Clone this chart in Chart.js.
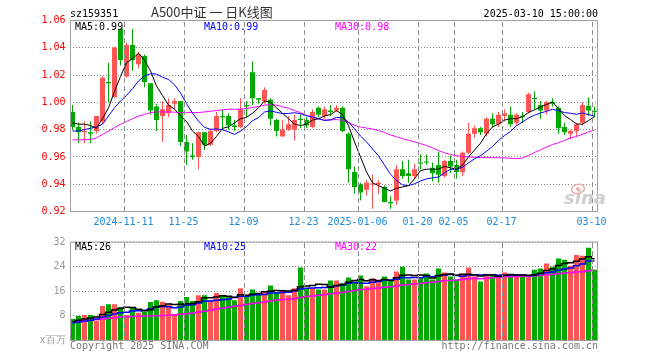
<!DOCTYPE html>
<html><head><meta charset="utf-8">
<script src="https://cdn.jsdelivr.net/npm/chart.js@4.4.1/dist/chart.umd.min.js"></script>
<style>
html,body{margin:0;padding:0;background:#fff;}
#wrap{position:relative;width:660px;height:360px;overflow:hidden;background:#fff;}
#c1{position:absolute;left:0;top:0;}
#c2{position:absolute;left:0;top:232px;}
</style></head><body>
<div id="wrap">
<canvas id="c1" width="660" height="232"></canvas>
<canvas id="c2" width="660" height="128"></canvas>
</div>
<script>
const dates = [
'2024-10-29','2024-10-30','2024-10-31','2024-11-01','2024-11-04','2024-11-05','2024-11-06','2024-11-07','2024-11-08',
'2024-11-11','2024-11-12','2024-11-13','2024-11-14','2024-11-15',
'2024-11-18','2024-11-19','2024-11-20','2024-11-21','2024-11-22',
'2024-11-25','2024-11-26','2024-11-27','2024-11-28','2024-11-29',
'2024-12-02','2024-12-03','2024-12-04','2024-12-05','2024-12-06',
'2024-12-09','2024-12-10','2024-12-11','2024-12-12','2024-12-13',
'2024-12-16','2024-12-17','2024-12-18','2024-12-19','2024-12-20',
'2024-12-23','2024-12-24','2024-12-25','2024-12-26','2024-12-27',
'2024-12-30','2024-12-31','2025-01-02','2025-01-03',
'2025-01-06','2025-01-07','2025-01-08','2025-01-09','2025-01-10',
'2025-01-13','2025-01-14','2025-01-15','2025-01-16','2025-01-17',
'2025-01-20','2025-01-21','2025-01-22','2025-01-23','2025-01-24',
'2025-01-27','2025-02-05','2025-02-06','2025-02-07',
'2025-02-10','2025-02-11','2025-02-12','2025-02-13','2025-02-14',
'2025-02-17','2025-02-18','2025-02-19','2025-02-20','2025-02-21',
'2025-02-24','2025-02-25','2025-02-26','2025-02-27','2025-02-28',
'2025-03-03','2025-03-04','2025-03-05','2025-03-06','2025-03-07',
'2025-03-10'];

const open = [
0.993,0.982,0.978,0.978,0.979,0.986,1.015,1.004,1.054,1.019,
1.042,1.028,1.034,1.014,0.997,0.990,0.992,0.999,1.001,0.971,
0.961,0.960,0.978,0.969,0.979,0.990,0.990,0.983,0.982,0.998,
1.022,1.003,1.001,1.002,0.987,0.975,0.980,0.980,0.988,0.987,
0.982,0.996,0.990,0.994,0.994,0.996,0.977,0.949,0.940,0.936,
0.9397,0.940,0.938,0.927,0.928,0.951,0.948,0.946,0.9552,0.9565,
0.952,0.954,0.946,0.957,0.954,0.949,0.963,0.977,0.981,0.977,
0.988,0.984,0.990,0.991,0.985,0.990,0.993,1.003,0.998,0.994,
1.0005,0.996,0.982,0.977,0.979,0.985,0.9975,0.9935];
const high = [
0.998,0.985,0.986,0.986,0.990,1.019,1.029,1.041,1.054,1.044,
1.054,1.037,1.035,1.014,0.999,1.001,1.003,1.003,1.001,0.976,
0.970,0.978,0.978,0.981,0.993,0.995,0.992,0.987,1.003,1.001,
1.030,1.003,1.011,1.003,0.988,0.987,0.990,0.991,0.991,0.989,
0.995,0.997,0.997,0.998,0.998,0.997,0.978,0.953,0.941,0.943,
0.947,0.943,0.939,0.931,0.954,0.957,0.958,0.955,0.962,0.962,
0.956,0.964,0.958,0.961,0.958,0.964,0.985,0.983,0.982,0.989,
0.992,0.993,0.995,0.997,0.992,0.993,1.007,1.008,1.001,1.001,
1.003,0.997,0.985,0.980,0.985,1.000,1.0035,0.997];
const low = [
0.980,0.970,0.970,0.970,0.977,0.984,1.000,1.003,1.027,1.018,
1.023,1.025,1.011,0.991,0.979,0.971,0.989,0.995,0.968,0.954,
0.958,0.951,0.965,0.968,0.978,0.980,0.980,0.979,0.981,0.989,
0.998,0.999,0.999,0.983,0.975,0.975,0.979,0.972,0.981,0.981,
0.981,0.989,0.988,0.990,0.993,0.978,0.941,0.933,0.928,0.932,
0.922,0.933,0.927,0.922,0.925,0.944,0.941,0.944,0.951,0.954,
0.942,0.941,0.945,0.948,0.944,0.946,0.962,0.974,0.976,0.975,
0.982,0.982,0.986,0.982,0.983,0.985,0.992,0.995,0.988,0.991,
0.997,0.977,0.976,0.973,0.975,0.983,0.990,0.989];
const close = [
0.982,0.978,0.979,0.977,0.990,1.018,1.014,1.040,1.031,1.042,
1.031,1.035,1.015,0.994,0.987,0.995,0.998,1.001,0.971,0.964,
0.960,0.978,0.969,0.979,0.990,0.989,0.983,0.982,0.995,0.997,
1.003,1.002,1.009,0.988,0.979,0.980,0.984,0.987,0.987,0.983,
0.993,0.991,0.995,0.993,0.996,0.979,0.951,0.938,0.934,0.941,
0.940,0.941,0.927,0.926,0.951,0.946,0.946,0.951,0.955,0.956,
0.948,0.947,0.957,0.953,0.949,0.963,0.977,0.981,0.978,0.988,
0.984,0.991,0.992,0.984,0.991,0.9895,1.006,1.0025,0.994,1.000,
0.999,0.981,0.978,0.979,0.984,0.998,0.994,0.993];

const ma5 = [
0.985,0.984,0.984,0.983,0.981,0.988,0.996,1.008,1.019,1.029,
1.032,1.036,1.031,1.023,1.012,1.005,0.998,0.995,0.990,0.986,
0.979,0.975,0.968,0.970,0.975,0.981,0.982,0.985,0.988,0.989,
0.992,0.996,1.001,1.000,0.996,0.992,0.988,0.984,0.983,0.984,
0.987,0.988,0.990,0.991,0.994,0.991,0.983,0.971,0.960,0.949,
0.941,0.939,0.937,0.935,0.937,0.938,0.939,0.944,0.950,0.951,
0.951,0.951,0.953,0.952,0.951,0.954,0.960,0.965,0.970,0.977,
0.982,0.984,0.987,0.988,0.988,0.9895,0.9925,0.9946,0.9966,0.9984,
1.0003,0.9953,0.9904,0.9874,0.9842,0.984,0.9866,0.9896];
const ma10 = [
0.979,0.979,0.980,0.981,0.982,0.984,0.990,0.996,1.001,1.005,
1.010,1.0157,1.0193,1.021,1.0207,1.0184,1.0168,1.0129,1.0069,0.9991,
0.992,0.9863,0.9817,0.9802,0.9805,0.9799,0.9784,0.9765,0.9789,0.9822,
0.9865,0.9889,0.9929,0.9938,0.9927,0.9918,0.9919,0.9924,0.9916,0.9902,
0.9892,0.9881,0.9867,0.9872,0.9889,0.9888,0.9855,0.9806,0.9753,0.9711,
0.9658,0.9608,0.954,0.9473,0.9428,0.9395,0.939,0.9403,0.9424,0.9439,
0.9447,0.9453,0.9483,0.951,0.9508,0.9525,0.9556,0.9586,0.9609,0.9641,
0.9677,0.9721,0.9756,0.9787,0.9829,0.9856,0.9885,0.9906,0.9922,0.9934,
0.9949,0.9939,0.9925,0.992,0.9913,0.9922,0.991,0.990];
const ma30 = [
0.9725,0.9725,0.9726,0.9728,0.974,0.9765,0.979,0.9815,0.984,0.986,
0.988,0.990,0.991,0.9925,0.993,0.993,0.993,0.9928,0.9925,0.9925,
0.9925,0.9925,0.993,0.9935,0.994,0.9945,0.995,0.995,0.995,0.9955,
0.9962,0.997,0.998,0.9983,0.998,0.9967,0.9957,0.9939,0.9925,0.9905,
0.9892,0.9878,0.9871,0.9871,0.9874,0.9868,0.9853,0.9832,0.9819,0.9812,
0.9805,0.9793,0.9779,0.9761,0.9748,0.9734,0.9721,0.9711,0.9698,0.9684,
0.9666,0.9647,0.963,0.9618,0.9608,0.9603,0.960,0.9598,0.9595,0.9597,
0.9594,0.9594,0.9593,0.959,0.9588,0.9592,0.961,0.9632,0.9652,0.9671,
0.9691,0.9704,0.9721,0.9739,0.975,0.9767,0.9783,0.9797];

const volume = [
7.0,8.0,8.3,8.3,6.4,11.2,11.8,11.8,10.9,8.3,
10.9,9.0,9.3,12.5,13.1,12.6,11.6,8.6,12.8,14.1,
12.8,14.7,14.7,13.1,15.4,14.7,14.1,13.1,17.0,14.4,
16.6,15.4,15.7,17.9,15.7,16.3,14.7,17.0,23.7,17.0,
17.0,16.6,16.6,19.5,19.5,18.6,20.5,19.2,21.1,17.6,
20.2,19.2,20.8,19.5,22.4,24.0,19.8,19.8,20.2,21.8,
19.8,23.4,22.1,20.8,19.8,21.4,23.7,20.8,19.2,21.4,
21.4,21.4,22.1,20.8,20.8,21.4,20.8,23.0,23.4,25.0,
24.0,26.6,26.2,24.3,27.8,27.5,30.1,23.0];
const vma5 = [
6.2,6.6,7.0,7.3,7.6,8.44,9.2,9.9,10.42,10.8,
10.74,10.18,9.68,10.0,10.96,11.3,11.82,11.68,11.74,11.94,
11.98,12.6,13.82,13.88,14.14,14.52,14.4,14.08,14.86,14.66,
15.04,15.3,15.82,16.0,16.26,16.2,16.06,16.32,17.48,17.74,
17.88,18.26,18.18,17.34,17.84,18.16,18.94,19.46,19.78,19.4,
19.72,19.46,19.78,19.46,20.42,21.18,21.3,21.1,21.24,21.12,
20.28,21.0,21.46,21.58,21.18,21.5,21.56,21.3,20.98,21.3,
21.3,20.84,21.1,21.42,21.3,21.3,21.18,21.36,21.88,22.72,
23.24,24.4,25.04,25.22,25.78,26.48,27.18,26.54];
const vma10 = [
5.8,6.0,6.3,6.6,7.0,7.6,8.1,8.6,9.0,9.2,
9.59,9.69,9.79,10.21,10.88,11.02,11.0,10.68,10.87,11.45,
11.64,12.21,12.75,12.81,13.04,13.25,13.5,13.95,14.37,14.4,
14.78,14.85,14.95,15.43,15.46,15.62,15.68,16.07,16.74,17.0,
17.04,17.16,17.25,17.41,17.79,18.02,18.6,18.82,18.56,18.62,
18.94,19.2,19.62,19.62,19.91,20.45,20.38,20.44,20.35,20.77,
20.73,21.15,21.28,21.41,21.15,20.89,21.28,21.38,21.28,21.24,
21.4,21.2,21.2,21.2,21.3,21.3,21.01,21.23,21.65,22.01,
22.27,22.79,23.2,23.55,24.25,24.86,25.79,25.79];
const vma30 = [
6.0,6.2,6.3,6.5,6.8,7.0,7.2,7.4,7.6,7.7,
7.8,7.9,7.95,8.0,8.05,8.1,8.2,8.3,8.5,8.7,
8.9,9.2,9.5,9.8,10.2,10.5,10.8,11.1,11.4,11.68,
12.0,12.25,12.5,12.82,13.13,13.3,13.39,13.57,13.99,14.28,
14.49,14.74,14.98,15.22,15.43,15.63,15.93,16.28,16.56,16.67,
16.92,17.07,17.27,17.49,17.72,18.03,18.22,18.44,18.55,18.8,
18.9,19.17,19.38,19.48,19.62,19.79,20.09,20.21,20.06,20.21,
20.36,20.52,20.7,20.74,20.79,20.88,20.89,21.02,21.09,21.34,
21.47,21.71,21.89,22.05,22.23,22.35,22.69,22.8];

const tickIdx  = [9, 19, 29, 39, 48, 58, 64, 72, 87];
const tickText = ['2024-11-11','11-25','12-09','12-23','2025-01-06','01-20','02-05','02-17','03-10'];

const MONO = '"DejaVu Sans Mono", monospace';
const UP = '#ff5555', DOWN = '#00a800';
const candleColor = close.map((c, i) => c >= open[i] ? UP : DOWN);

function lineDs(data, color, width, stepped) {
  return {type:'line', data, borderColor:color, borderWidth:width, pointRadius:0,
          tension:0, fill:false, stepped:stepped || false, order:0};
}

// dashed vertical date grid lines (1px filled segments), located via the x scale
function drawVGrid(chart) {
  const ctx = chart.ctx, a = chart.chartArea, xs = chart.scales.x;
  const slot = (a.right - a.left) / dates.length;
  ctx.save();
  ctx.globalAlpha = 1;
  ctx.globalCompositeOperation = 'source-over';
  ctx.fillStyle = '#8c8c8c';
  const top = Math.ceil(a.top) + 1, bottom = Math.floor(a.bottom);
  for (let k = 0; k < tickIdx.length; k++) {
    let c = xs ? xs.getPixelForValue(tickIdx[k]) : NaN;
    if (!isFinite(c)) c = a.left + (tickIdx[k] + 0.5) * slot;
    const x = Math.round(c - slot / 2);
    for (let y = top; y < bottom; y += 8) {
      ctx.fillRect(x, y, 1, Math.min(5, bottom - y));
    }
  }
  ctx.restore();
}

function drawFrame(chart) {
  const ctx = chart.ctx, a = chart.chartArea;
  ctx.strokeStyle = '#a0a0a0'; ctx.lineWidth = 1; ctx.setLineDash([]);
  ctx.strokeRect(Math.round(a.left) + 0.5, a.top, Math.round(a.right) - Math.round(a.left) - 1, a.bottom - a.top);
}

const frame1 = {
  id:'frame1',
  afterDraw(chart) {
    const ctx = chart.ctx;
    drawVGrid(chart);
    ctx.save();
    drawFrame(chart);
    ctx.textBaseline = 'alphabetic';
    ctx.font = '10px ' + MONO; ctx.fillStyle = '#000'; ctx.textAlign = 'left';
    ctx.fillText('sz159351', 70, 17);
    ctx.textAlign = 'right';
    ctx.fillText('2025-03-10 15:00:00', 598, 17);
    ctx.textAlign = 'left';
    ctx.font = '13px "Noto Sans CJK SC", sans-serif'; ctx.fillStyle = '#333';
    ctx.fillText('A500中证 一 日K线图', 151, 17);
    ctx.font = '10px ' + MONO;
    ctx.fillStyle = '#000'; ctx.fillText('MA5:' + ma5[ma5.length-1].toFixed(2), 75, 29.5);
    ctx.fillStyle = '#0000ff'; ctx.fillText('MA10:' + ma10[ma10.length-1].toFixed(2), 204, 29.5);
    ctx.fillStyle = '#ff00ff'; ctx.fillText('MA30:' + ma30[ma30.length-1].toFixed(2), 335, 29.5);
    // sina watermark
    ctx.fillStyle = '#cfcfcf';
    ctx.font = 'italic bold 18px "DejaVu Sans", sans-serif';
    ctx.fillText('sina', 564, 204);
    ctx.strokeStyle = '#efb0b0'; ctx.lineWidth = 1.6;
    ctx.beginPath(); ctx.ellipse(578, 189, 6.5, 4.5, -0.2, 0, Math.PI*2); ctx.stroke();
    ctx.fillStyle = '#efb0b0';
    ctx.beginPath(); ctx.arc(578, 189, 2, 0, Math.PI*2); ctx.fill();
    ctx.restore();
  }
};

const frame2 = {
  id:'frame2',
  afterDraw(chart) {
    const ctx = chart.ctx;
    drawVGrid(chart);
    ctx.save();
    drawFrame(chart);
    ctx.textBaseline = 'alphabetic';
    ctx.font = '10px ' + MONO; ctx.textAlign = 'left';
    ctx.fillStyle = '#000'; ctx.fillText('MA5:' + Math.floor(vma5[vma5.length-1]), 75, 18);
    ctx.fillStyle = '#0000ff'; ctx.fillText('MA10:' + Math.floor(vma10[vma10.length-1]), 204, 18);
    ctx.fillStyle = '#ff00ff'; ctx.fillText('MA30:' + Math.floor(vma30[vma30.length-1]), 335, 18);
    ctx.fillStyle = '#777';
    ctx.fillText('Copyright 2025 SINA.COM', 70, 117);
    ctx.textAlign = 'right';
    ctx.fillText('http://finance.sina.com.cn', 598, 117);
    ctx.restore();
  }
};

new Chart(document.getElementById('c1'), {
  type:'bar',
  data:{
    labels: dates,
    datasets:[
      lineDs(ma5, '#000000', 1),
      lineDs(ma10, '#0000ff', 1),
      lineDs(ma30, '#ff00ff', 1),
      {type:'bar', data: dates.map((d, i) => [open[i], close[i]]), backgroundColor: candleColor,
       barThickness:5, grouped:false, minBarLength:1, inflateAmount:0, borderWidth:0, order:1},
      {type:'bar', data: dates.map((d, i) => [low[i], high[i]]), backgroundColor: candleColor,
       barThickness:1, grouped:false, inflateAmount:0, borderWidth:0, order:2}
    ]
  },
  options:{
    responsive:false, animation:false, devicePixelRatio:1,
    layout:{padding:{left:0, right:62.5, top:20.5, bottom:0}},
    plugins:{legend:{display:false}, tooltip:{enabled:false}},
    scales:{
      x:{
        offset:true,
        grid:{display:false, drawTicks:false},
        border:{display:false},
        ticks:{autoSkip:false, maxRotation:0, minRotation:0, padding:5, labelOffset:-3,
               color:'#1a8ae0', font:{family:MONO, size:10},
               callback:(v, i) => { const k = tickIdx.indexOf(i); return k >= 0 ? tickText[k] : ''; }},
        afterFit: s => { s.height = 20.5; }
      },
      y:{
        min:0.92, max:1.06,
        ticks:{stepSize:0.02, padding:4, color:'#ff0000', font:{family:MONO, size:10},
               callback: v => Number(v).toFixed(2)},
        grid:{drawTicks:false, color:'#8c8c8c', lineWidth:1},
        border:{display:false, dash:[1,2]},
        afterFit: s => { s.width = 69.5; }
      }
    }
  },
  plugins:[frame1]
});

new Chart(document.getElementById('c2'), {
  type:'bar',
  data:{
    labels: dates,
    datasets:[
      lineDs(vma5, '#000000', 1.5, 'middle'),
      lineDs(vma10, '#0000ff', 1.5, 'middle'),
      lineDs(vma30, '#ff00ff', 1.5, 'middle'),
      {type:'bar', data: volume, backgroundColor: candleColor, barThickness:5,
       grouped:false, inflateAmount:0, borderWidth:0, order:1}
    ]
  },
  options:{
    responsive:false, animation:false, devicePixelRatio:1,
    layout:{padding:{left:0, right:62.5, top:8.5, bottom:19.5}},
    plugins:{legend:{display:false}, tooltip:{enabled:false}},
    scales:{
      x:{
        offset:true,
        grid:{display:false, drawTicks:false},
        border:{display:false},
        ticks:{display:false},
        afterFit: s => { s.height = 0; }
      },
      y:{
        min:0, max:32,
        ticks:{stepSize:8, padding:4, color:'#999999', font:{family:MONO, size:10},
               callback: v => v === 0 ? 'x百万' : String(v)},
        grid:{drawTicks:false, color:'#8c8c8c', lineWidth:1},
        border:{display:false, dash:[1,2]},
        afterFit: s => { s.width = 69.5; }
      }
    }
  },
  plugins:[frame2]
});
</script>
</body></html>
